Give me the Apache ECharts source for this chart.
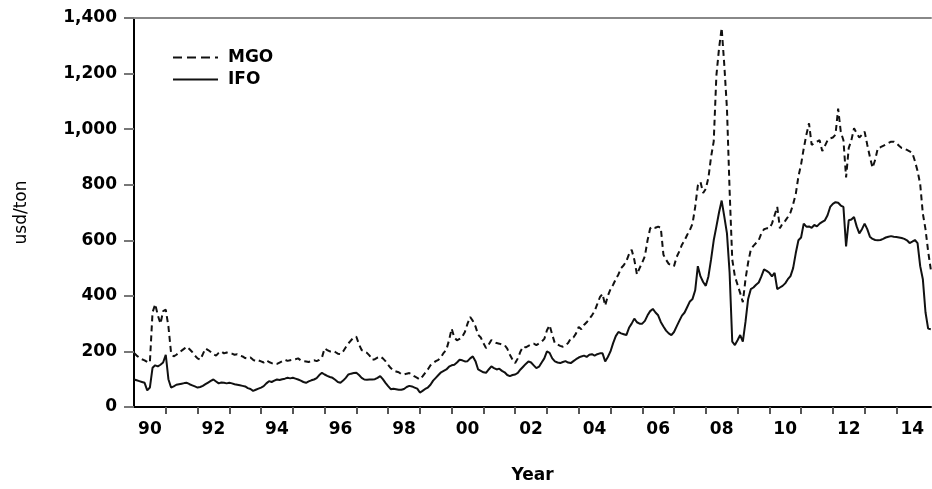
<!DOCTYPE html>
<html>
<head>
<meta charset="utf-8">
<script src="https://cdn.jsdelivr.net/npm/echarts@6/dist/echarts.min.js"></script>
<style>
html,body{margin:0;padding:0;background:#fff;overflow:hidden;}
#chart{width:932px;height:489px;}
</style>
</head>
<body>
<div id="chart"></div>
<script>
// Monthly series, January 1990 to February 2015 (usd/ton)
const startYear = 1990;
const seriesNames = ['MGO', 'IFO'];
const mgo = [
  194, 185, 178, 172, 168, 162, 160, 340, 370, 330, 300, 345,   // 1990
  350, 290, 195, 182, 188, 195, 203, 210, 217, 208, 198, 185,   // 1991
  175, 170, 190, 211, 205, 198, 190, 185, 195, 200, 193, 196,   // 1992
  194, 192, 188, 190, 185, 182, 176, 174, 178, 170, 165, 168,   // 1993
  164, 160, 168, 162, 158, 154, 155, 160, 165, 170, 166, 168,   // 1994
  170, 172, 175, 168, 165, 164, 162, 166, 168, 165, 170, 178,   // 1995
  211, 205, 200, 202, 198, 192, 190, 200, 215, 229, 240, 250,   // 1996
  253, 225, 205, 200, 195, 185, 170, 172, 178, 182, 175, 165,   // 1997
  152, 140, 131, 128, 125, 118, 117, 120, 122, 118, 110, 105,   // 1998
  99, 110, 123, 135, 150, 158, 165, 170, 180, 195, 206, 240,    // 1999
  282, 250, 240, 245, 253, 270, 300, 324, 310, 290, 260, 250,   // 2000
  230, 212, 225, 241, 235, 230, 228, 225, 223, 210, 188, 170,   // 2001
  158, 175, 200, 217, 215, 220, 225, 228, 223, 229, 235, 245,   // 2002
  276, 294, 260, 229, 225, 220, 217, 222, 230, 247, 250, 265,   // 2003
  288, 280, 295, 305, 317, 330, 345, 370, 395, 407, 365, 400,   // 2004
  424, 440, 460, 477, 500, 510, 525, 550, 566, 530, 477, 500,   // 2005
  520, 543, 600, 643, 650, 645, 649, 645, 548, 530, 515, 510,   // 2006
  507, 540, 560, 584, 600, 620, 637, 660, 720, 797, 810, 770,   // 2007
  785, 826, 900, 956, 1192, 1290, 1364, 1230, 1074, 779, 531, 470, // 2008
  440, 410, 377, 460, 520, 566, 580, 590, 600, 625, 640, 643,   // 2009
  643, 660, 690, 720, 643, 660, 670, 684, 700, 730, 767, 830,   // 2010
  873, 930, 980, 1021, 943, 950, 955, 960, 921, 940, 960, 967,  // 2011
  970, 980, 1074, 990, 960, 826, 932, 960, 1003, 985, 970, 980, // 2012
  991, 944, 900, 861, 890, 932, 935, 940, 945, 950, 955, 955,   // 2013
  950, 940, 932, 930, 925, 920, 915, 885, 850, 802, 696, 640,   // 2014
  560, 495                                                       // 2015
];
const ifo = [
  99, 96, 93, 90, 87, 60, 70, 141, 150, 146, 152, 160,          // 1990
  188, 100, 70, 74, 80, 82, 84, 86, 87, 82, 78, 74,             // 1991
  70, 72, 76, 82, 88, 94, 99, 92, 85, 88, 87, 85,               // 1992
  87, 85, 82, 80, 78, 76, 74, 68, 65, 58, 62, 66,               // 1993
  70, 75, 85, 93, 90, 95, 99, 97, 100, 102, 105, 103,           // 1994
  105, 102, 99, 95, 90, 87, 92, 96, 99, 104, 115, 123,          // 1995
  117, 112, 108, 105, 98, 90, 87, 95, 105, 117, 120, 122,       // 1996
  123, 115, 105, 99, 98, 99, 99, 100, 105, 111, 100, 87,        // 1997
  75, 64, 66, 64, 62, 62, 65, 72, 76, 74, 70, 66,               // 1998
  52, 58, 65, 70, 80, 95, 105, 115, 125, 130, 135, 145,         // 1999
  150, 152, 160, 170, 168, 164, 165, 175, 182, 165, 135, 130,   // 2000
  125, 123, 135, 146, 140, 135, 138, 130, 125, 115, 111, 115,   // 2001
  117, 123, 135, 145, 155, 164, 160, 150, 140, 145, 160, 175,   // 2002
  200, 195, 175, 164, 160, 158, 162, 165, 160, 158, 165, 172,   // 2003
  178, 182, 185, 180, 188, 190, 185, 190, 193, 193, 164, 180,   // 2004
  200, 230, 255, 270, 265, 262, 259, 285, 300, 318, 305, 300,   // 2005
  300, 310, 330, 345, 353, 340, 330, 306, 290, 275, 265, 259,   // 2006
  270, 290, 310, 329, 340, 360, 380, 389, 420, 507, 470, 450,   // 2007
  436, 470, 531, 600, 649, 700, 743, 685, 625, 483, 235, 223,   // 2008
  240, 259, 235, 306, 389, 424, 430, 440, 448, 470, 495, 490,   // 2009
  483, 470, 483, 424, 430, 436, 445, 460, 471, 500, 554, 600,   // 2010
  610, 660, 649, 650, 645, 655, 650, 660, 666, 672, 690, 720,   // 2011
  731, 737, 735, 725, 720, 578, 672, 675, 684, 650, 625, 640,   // 2012
  660, 640, 613, 605, 601, 600, 601, 605, 610, 613, 615, 613,   // 2013
  612, 610, 608, 605, 600, 590, 595, 601, 590, 507, 460, 341,   // 2014
  282, 280                                                       // 2015
];
const yTicks = [0, 200, 400, 600, 800, 1000, 1200, 1400];
const xTickYears = [];
for (let y = 1991; y <= 2014; y++) xTickYears.push(y);
const xLabelYears = [1990, 1992, 1994, 1996, 1998, 2000, 2002, 2004, 2006, 2008, 2010, 2012, 2014];

const toPairs = arr => arr.map((v, i) => [startYear + i / 12, v]);
const FONT = 'DejaVu Sans';

const chart = echarts.init(document.getElementById('chart'), null, {renderer: 'canvas'});
chart.setOption({
  backgroundColor: '#fff',
  animation: false,
  grid: {left: 134, right: 1, top: 18, bottom: 76, containLabel: false},
  legend: {
    data: [
      {name: 'MGO', lineStyle: {type: [9, 5], width: 2}},
      {name: 'IFO', lineStyle: {type: 'solid', width: 2}}
    ],
    orient: 'vertical',
    left: 172,
    top: 49,
    padding: 0,
    itemWidth: 45,
    itemHeight: 14,
    itemGap: 5,
    itemStyle: {opacity: 0},
    textStyle: {fontFamily: FONT, fontWeight: 'bold', fontSize: 17, color: '#000', lineHeight: 14, padding: [0, 0, 0, 5]}
  },
  xAxis: [{
    type: 'value',
    min: 1990,
    max: 2015.09,
    position: 'bottom',
    name: 'Year',
    nameLocation: 'middle',
    nameGap: 60,
    nameTextStyle: {fontFamily: FONT, fontWeight: 'bold', fontSize: 17, color: '#000'},
    axisLine: {show: true, onZero: false, lineStyle: {color: '#000', width: 2}},
    axisTick: {show: true, length: 7, customValues: xTickYears, lineStyle: {color: '#555', width: 2}},
    axisLabel: {
      show: true,
      customValues: xLabelYears.map(y => y + 0.5),
      formatter: v => String(Math.floor(v) % 100).padStart(2, '0'),
      fontFamily: FONT, fontWeight: 'bold', fontSize: 17, color: '#000', margin: 14
    },
    splitLine: {show: false}
  }, {
    type: 'value',
    min: 1990,
    max: 2015.09,
    position: 'top',
    axisLine: {show: true, onZero: false, lineStyle: {color: '#888', width: 2}},
    axisTick: {show: false},
    axisLabel: {show: false},
    splitLine: {show: false}
  }],
  yAxis: {
    type: 'value',
    min: 0,
    max: 1400,
    interval: 200,
    name: 'usd/ton',
    nameLocation: 'middle',
    nameGap: 104,
    nameRotate: 90,
    nameTextStyle: {fontFamily: FONT, fontSize: 17, color: '#000'},
    axisLine: {show: true, lineStyle: {color: '#000', width: 2}},
    axisTick: {show: true, length: 10, lineStyle: {color: '#777', width: 2}},
    axisLabel: {
      customValues: yTicks,
      formatter: v => v.toLocaleString('en-US'),
      fontFamily: FONT, fontWeight: 'bold', fontSize: 17, color: '#000', margin: 17
    },
    splitLine: {show: false}
  },
  series: [{
    name: 'MGO',
    type: 'line',
    xAxisIndex: 0,
    data: toPairs(mgo),
    symbol: 'none',
    lineStyle: {color: '#111', width: 2, type: [6, 4]},
    itemStyle: {color: '#111'}
  }, {
    name: 'IFO',
    type: 'line',
    xAxisIndex: 0,
    data: toPairs(ifo),
    symbol: 'none',
    lineStyle: {color: '#111', width: 2, type: 'solid'},
    itemStyle: {color: '#111'}
  }]
});
</script>
</body>
</html>
